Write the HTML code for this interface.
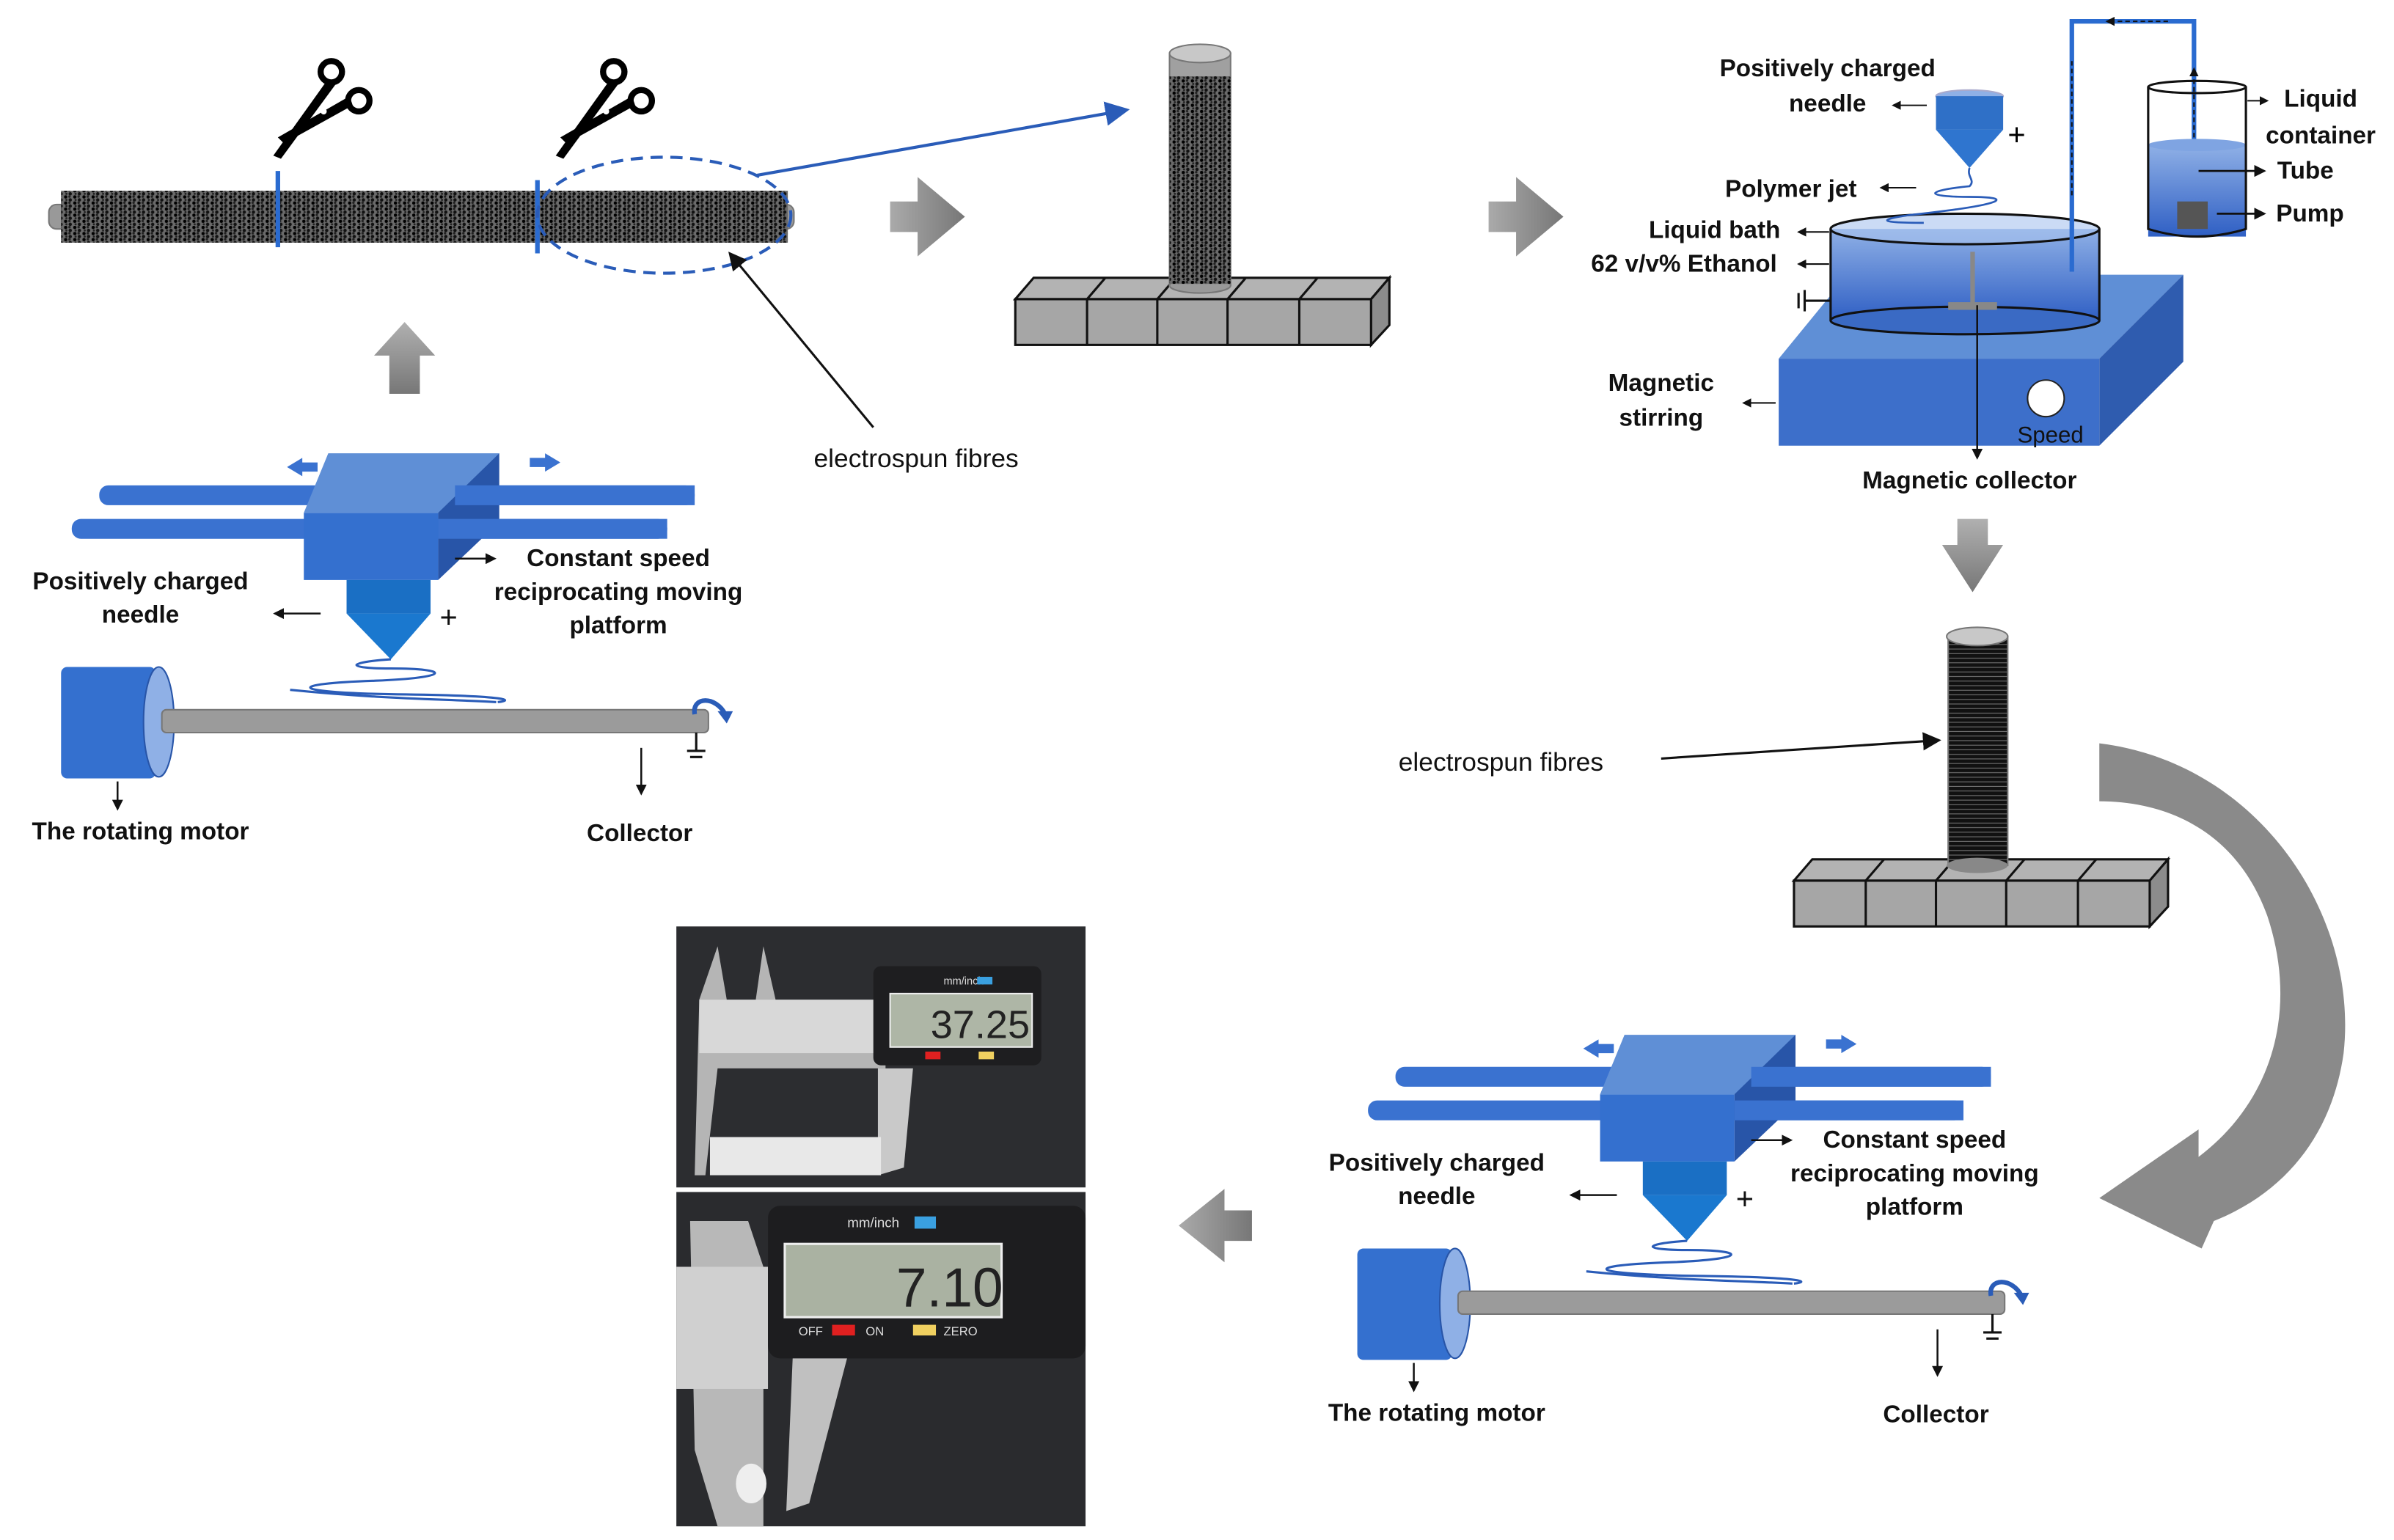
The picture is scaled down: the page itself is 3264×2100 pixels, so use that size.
<!DOCTYPE html>
<html><head><meta charset="utf-8"><style>
html,body{margin:0;padding:0;background:#fff;}
svg{display:block;}
.b{font-family:"Liberation Sans",sans-serif;font-weight:bold;font-size:16px;fill:#111;}
.r{font-family:"Liberation Sans",sans-serif;font-size:17px;fill:#111;}
</style></head><body>
<svg width="3264" height="2100" viewBox="0 0 1568 1009" preserveAspectRatio="none" xmlns="http://www.w3.org/2000/svg">
<defs>
<pattern id="fib" width="6" height="4" patternUnits="userSpaceOnUse">
<rect width="6" height="4" fill="#6a6a6a"/><circle cx="1" cy="1" r="1.1" fill="#000"/><circle cx="4" cy="3" r="1.1" fill="#111"/><circle cx="3.5" cy="0.8" r="0.8" fill="#222"/><circle cx="1.5" cy="3" r="0.7" fill="#222"/>
</pattern>
<pattern id="blk" width="4" height="3" patternUnits="userSpaceOnUse">
<rect width="4" height="3" fill="#111"/><rect y="2" width="4" height="0.5" fill="#777"/>
</pattern>
<linearGradient id="gr" x1="0" y1="0" x2="0" y2="1"><stop offset="0" stop-color="#b0b0b0"/><stop offset="1" stop-color="#777"/></linearGradient>
<linearGradient id="grh" x1="0" y1="0" x2="1" y2="0"><stop offset="0" stop-color="#aaa"/><stop offset="1" stop-color="#777"/></linearGradient>
<linearGradient id="wat" x1="0" y1="0" x2="0" y2="1"><stop offset="0" stop-color="#8fb0e6"/><stop offset="1" stop-color="#2f5fc4"/></linearGradient>
<marker id="ah" markerWidth="8" markerHeight="8" refX="7" refY="4" orient="auto"><path d="M0,0 L8,4 L0,8z" fill="#111"/></marker>
<marker id="ahs" markerWidth="6" markerHeight="6" refX="5" refY="3" orient="auto"><path d="M0,0 L6,3 L0,6z" fill="#111"/></marker>
<marker id="ahb" markerWidth="8" markerHeight="8" refX="7" refY="4" orient="auto"><path d="M0,0 L8,4 L0,8z" fill="#2a5cb8"/></marker>
<g id="app">
 <rect x="65" y="318" width="390" height="13" rx="6" fill="#3a72d0"/>
 <rect x="47" y="340" width="390" height="13" rx="6" fill="#3a72d0"/>
 <polygon points="199,336 215,297 327,297 311,336" fill="#5f8fd6"/>
 <polygon points="287,336 327,297 327,342 287,380" fill="#2855a8"/>
 <rect x="199" y="336" width="88" height="44" fill="#3470cf"/>
 <rect x="298" y="318" width="157" height="13" fill="#3a72d0"/>
 <rect x="287" y="340" width="150" height="13" fill="#3a72d0"/>
 <path d="M188,306 l10,-6 v3 h10 v6 h-10 v3z" fill="#3a72d0"/>
 <path d="M367,303 l-10,-6 v3 h-10 v6 h10 v3z" fill="#3a72d0"/>
 <rect x="227" y="380" width="55" height="22" fill="#1a6fc4"/>
 <polygon points="227,402 282,402 256,432" fill="#1a78cf"/>
 <path d="M256,432 c-30,2 -30,6 0,6 c40,0 40,6 -10,8 c-60,2 -60,8 20,9 c70,1 70,4 60,5" fill="none" stroke="#2a5cb8" stroke-width="1.5"/>
 <path d="M190,452 c60,6 100,6 135,8" fill="none" stroke="#2a5cb8" stroke-width="1.5"/>
 <text x="288" y="411" class="b" style="font-size:20px;font-weight:normal">+</text>
 <line x1="210" y1="402" x2="180" y2="402" stroke="#111" stroke-width="1.2" marker-end="url(#ahs)"/>
 <line x1="298" y1="366" x2="324" y2="366" stroke="#111" stroke-width="1.2" marker-end="url(#ahs)"/>
 <text x="92" y="386" class="b" text-anchor="middle">Positively charged</text>
 <text x="92" y="408" class="b" text-anchor="middle">needle</text>
 <text x="405" y="371" class="b" text-anchor="middle">Constant speed</text>
 <text x="405" y="393" class="b" text-anchor="middle">reciprocating moving</text>
 <text x="405" y="415" class="b" text-anchor="middle">platform</text>
 <rect x="40" y="437" width="62" height="73" rx="4" fill="#3470cf"/>
 <ellipse cx="104" cy="473" rx="10" ry="36" fill="#8fb0e6" stroke="#2855a8"/>
 <rect x="106" y="465" width="358" height="15" rx="3" fill="#9b9b9b" stroke="#777"/>
 <path d="M455,468 c-2,-12 14,-12 20,0" fill="none" stroke="#2a5cb8" stroke-width="3"/>
 <path d="M470,466 l10,0 l-4,8z" fill="#2a5cb8"/>
 <line x1="456" y1="480" x2="456" y2="492" stroke="#111" stroke-width="1.5"/>
 <line x1="450" y1="492" x2="462" y2="492" stroke="#111" stroke-width="1.5"/>
 <line x1="452" y1="496" x2="460" y2="496" stroke="#111" stroke-width="1.5"/>
 <line x1="77" y1="512" x2="77" y2="530" stroke="#111" stroke-width="1.2" marker-end="url(#ahs)"/>
 <line x1="420" y1="490" x2="420" y2="520" stroke="#111" stroke-width="1.2" marker-end="url(#ahs)"/>
 <text x="92" y="550" class="b" text-anchor="middle">The rotating motor</text>
 <text x="419" y="551" class="b" text-anchor="middle">Collector</text>
</g>
<g id="base">
 <polygon points="665,196 677,182 910,182 898,196" fill="#b3b3b3" stroke="#111" stroke-width="1.5"/>
 <polygon points="898,196 910,182 910,213 898,226" fill="#8c8c8c" stroke="#111" stroke-width="1.5"/>
 <rect x="665" y="196" width="233" height="30" fill="#a6a6a6" stroke="#111" stroke-width="1.5"/>
 <g stroke="#111" stroke-width="1.5"><line x1="712" y1="196" x2="712" y2="226"/><line x1="758" y1="196" x2="758" y2="226"/><line x1="804" y1="196" x2="804" y2="226"/><line x1="851" y1="196" x2="851" y2="226"/>
 <line x1="712" y1="196" x2="724" y2="182"/><line x1="758" y1="196" x2="770" y2="182"/><line x1="804" y1="196" x2="816" y2="182"/><line x1="851" y1="196" x2="863" y2="182"/></g>
</g>
</defs>

<!-- top rod -->
<rect x="32" y="134" width="488" height="16" rx="5" fill="#999" stroke="#777"/>
<rect x="40" y="125" width="476" height="34" fill="url(#fib)"/>
<line x1="182" y1="112" x2="182" y2="162" stroke="#2a6bd0" stroke-width="3"/>
<line x1="352" y1="118" x2="352" y2="166" stroke="#2a6bd0" stroke-width="3"/>
<ellipse cx="435" cy="141" rx="83" ry="38" fill="none" stroke="#2a5cb8" stroke-width="2" stroke-dasharray="8,5"/>
<line x1="495" y1="115" x2="738" y2="72" stroke="#2a5cb8" stroke-width="2" marker-end="url(#ahb)"/>
<!-- scissors -->
<g id="sc">
 <circle cx="217" cy="47" r="7" fill="none" stroke="#000" stroke-width="4"/>
 <circle cx="235" cy="66" r="7" fill="none" stroke="#000" stroke-width="4"/>
 <polygon points="214,53 220,55 184,104 179,102" fill="#000"/>
 <polygon points="229,63 231,69 186,94 182,90" fill="#000"/>
 <circle cx="212" cy="73" r="2" fill="#fff"/>
</g>
<use href="#sc" x="185" y="0"/>
<line x1="572" y1="280" x2="478" y2="166" stroke="#111" stroke-width="1.5" marker-end="url(#ah)"/>
<text x="533" y="306" class="r">electrospun fibres</text>
<!-- gray arrows -->
<path d="M583,132 h18 v-16 l31,26 l-31,26 v-16 h-18z" fill="url(#grh)"/>
<path d="M975,132 h18 v-16 l31,26 l-31,26 v-16 h-18z" fill="url(#grh)"/>
<path d="M245,233 l20,-22 l20,22 h-10 v25 h-20 v-25z" fill="url(#gr)"/>
<path d="M1282,340 h20 v17 h10 l-20,31 l-20,-31 h10z" fill="url(#gr)"/>
<path d="M820,793 h-18 v-14 l-30,24 l30,24 v-14 h18z" fill="url(#grh)"/>
<!-- cylinder top -->
<use href="#base"/>
<rect x="766" y="35" width="40" height="152" fill="#a0a0a0" stroke="#777"/>
<ellipse cx="786" cy="187" rx="20" ry="5" fill="#999" stroke="#777"/>
<rect x="766" y="50" width="40" height="136" fill="url(#fib)"/>
<ellipse cx="786" cy="35" rx="20" ry="6" fill="#c8c8c8" stroke="#777"/>
<!-- right top: bath -->
<polygon points="1165,235 1210,180 1430,180 1375,235" fill="#5f8fd6"/>
<polygon points="1375,235 1430,180 1430,237 1375,292" fill="#2f5caf"/>
<rect x="1165" y="235" width="210" height="57" fill="#3d6fca"/>
<rect x="1199" y="150" width="176" height="60" fill="url(#wat)"/>
<ellipse cx="1287" cy="210" rx="88" ry="9" fill="#3a6ac4" stroke="#111" stroke-width="1.5"/>
<line x1="1199" y1="150" x2="1199" y2="210" stroke="#111" stroke-width="1.5"/>
<line x1="1375" y1="150" x2="1375" y2="210" stroke="#111" stroke-width="1.5"/>
<ellipse cx="1287" cy="150" rx="88" ry="10" fill="#a9c3ee" stroke="#111" stroke-width="1.5" fill-opacity="0.6"/>
<line x1="1292" y1="165" x2="1292" y2="200" stroke="#888" stroke-width="3"/>
<rect x="1276" y="198" width="32" height="5" fill="#888"/>
<line x1="1295" y1="200" x2="1295" y2="300" stroke="#111" stroke-width="1.2" marker-end="url(#ahs)"/>
<circle cx="1340" cy="261" r="12" fill="#fff" stroke="#222"/>
<text x="1343" y="290" class="b" style="font-weight:normal;font-size:15px" text-anchor="middle">Speed</text>
<line x1="1178" y1="192" x2="1178" y2="202" stroke="#111" stroke-width="1.5"/><line x1="1182" y1="190" x2="1182" y2="204" stroke="#111" stroke-width="1.5"/><line x1="1182" y1="197" x2="1199" y2="197" stroke="#111" stroke-width="1.5"/>
<!-- needle -->
<ellipse cx="1290" cy="63" rx="22" ry="4" fill="#8fb0e6" stroke="#aac"/>
<rect x="1268" y="63" width="44" height="22" fill="#2f70c7"/>
<polygon points="1268,85 1312,85 1290,110" fill="#2f75cf"/>
<path d="M1290,110 c-2,6 4,8 0,12 c-30,3 -30,7 0,7 c30,0 25,5 -40,12 c-20,3 -20,5 10,5" fill="none" stroke="#2a5cb8" stroke-width="1.3"/>
<text x="1315" y="95" style="font-family:'Liberation Sans',sans-serif;font-size:20px">+</text>
<!-- tube and container -->
<path d="M1357,178 V14 H1437 V130" fill="none" stroke="#2a6bd0" stroke-width="3"/>
<line x1="1357" y1="40" x2="1357" y2="130" stroke="#111" stroke-width="1" stroke-dasharray="3,2"/>
<line x1="1437" y1="120" x2="1437" y2="45" stroke="#111" stroke-width="1" stroke-dasharray="3,2" marker-end="url(#ahs)"/>
<line x1="1420" y1="14" x2="1380" y2="14" stroke="#111" stroke-width="1" stroke-dasharray="3,2" marker-end="url(#ahs)"/>
<rect x="1407" y="95" width="64" height="60" fill="url(#wat)"/>
<ellipse cx="1439" cy="95" rx="32" ry="4" fill="#7fa4e2"/>
<path d="M1407,57 V150 Q1439,160 1471,150 V57" fill="none" stroke="#111" stroke-width="1.5"/>
<ellipse cx="1439" cy="57" rx="32" ry="4" fill="none" stroke="#111" stroke-width="1.5"/>
<rect x="1426" y="132" width="20" height="18" fill="#555"/>
<text x="1197" y="50" class="b" text-anchor="middle">Positively charged</text>
<text x="1197" y="73" class="b" text-anchor="middle">needle</text>
<line x1="1262" y1="69" x2="1240" y2="69" stroke="#111" marker-end="url(#ahs)"/>
<text x="1173" y="129" class="b" text-anchor="middle">Polymer jet</text>
<line x1="1255" y1="123" x2="1232" y2="123" stroke="#111" marker-end="url(#ahs)"/>
<text x="1123" y="156" class="b" text-anchor="middle">Liquid bath</text>
<line x1="1198" y1="152" x2="1178" y2="152" stroke="#111" marker-end="url(#ahs)"/>
<text x="1103" y="178" class="b" text-anchor="middle">62 v/v% Ethanol</text>
<line x1="1198" y1="173" x2="1178" y2="173" stroke="#111" marker-end="url(#ahs)"/>
<text x="1088" y="256" class="b" text-anchor="middle">Magnetic</text>
<text x="1088" y="279" class="b" text-anchor="middle">stirring</text>
<line x1="1163" y1="264" x2="1142" y2="264" stroke="#111" marker-end="url(#ahs)"/>
<text x="1290" y="320" class="b" text-anchor="middle">Magnetic collector</text>
<line x1="1472" y1="66" x2="1485" y2="66" stroke="#111" marker-end="url(#ahs)"/>
<text x="1520" y="70" class="b" text-anchor="middle">Liquid</text>
<text x="1520" y="94" class="b" text-anchor="middle">container</text>
<line x1="1440" y1="112" x2="1483" y2="112" stroke="#111" stroke-width="1.3" marker-end="url(#ahs)"/>
<text x="1510" y="117" class="b" text-anchor="middle">Tube</text>
<line x1="1452" y1="140" x2="1483" y2="140" stroke="#111" stroke-width="1.3" marker-end="url(#ahs)"/>
<text x="1513" y="145" class="b" text-anchor="middle">Pump</text>
<!-- middle right black cylinder -->
<use href="#base" x="510" y="381"/>
<rect x="1276" y="417" width="39" height="150" fill="url(#blk)" stroke="#777"/>
<ellipse cx="1295" cy="567" rx="20" ry="5" fill="#888"/>
<ellipse cx="1295" cy="417" rx="20" ry="6" fill="#c8c8c8" stroke="#777"/>
<line x1="1088" y1="497" x2="1270" y2="485" stroke="#111" stroke-width="1.5" marker-end="url(#ah)"/>
<text x="916" y="505" class="r">electrospun fibres</text>
<!-- big curved arrow -->
<path d="M1375,487 C1480,500 1545,600 1535,690 C1528,740 1500,780 1450,800 L1442,818 L1375,785 L1440,740 L1440,758 C1490,720 1505,660 1485,600 C1465,545 1420,525 1375,525 Z" fill="#8a8a8a"/>
<!-- lower apparatus -->
<use href="#app"/>
<use href="#app" x="849" y="381"/>
<!-- photos -->
<rect x="443" y="607" width="268" height="171" fill="#2c2d30"/>
<rect x="443" y="781" width="268" height="219" fill="#2a2b2e"/>
<g>
 <polygon points="458,655 470,620 476,655 495,655 500,620 508,655 580,655 580,700 470,700 462,770 455,770" fill="#b5b5b5"/>
 <rect x="458" y="655" width="122" height="35" fill="#d8d8d8"/>
 <polygon points="575,700 598,700 592,765 575,770" fill="#c9c9c9"/>
 <rect x="465" y="745" width="112" height="25" fill="#e8e8e8"/>
 <rect x="572" y="633" width="110" height="65" rx="5" fill="#1e1e20"/>
 <rect x="583" y="651" width="93" height="35" fill="#aeb6a6" stroke="#eee"/>
 <text x="642" y="680" style="font-family:'Liberation Sans',sans-serif;font-size:26px;fill:#222" text-anchor="middle">37.25</text>
 <text x="618" y="645" style="font-family:'Liberation Sans',sans-serif;font-size:7px;fill:#ddd">mm/inch</text>
 <rect x="640" y="640" width="10" height="5" fill="#3aa0e0"/>
 <rect x="606" y="689" width="10" height="5" fill="#e02020"/><rect x="641" y="689" width="10" height="5" fill="#f0d060"/>
</g>
<g>
 <polygon points="452,800 490,800 500,830 500,1000 470,1000 455,950" fill="#b8b8b8"/>
 <rect x="443" y="830" width="60" height="80" fill="#d0d0d0"/>
 <polygon points="520,870 560,870 530,985 515,990" fill="#c0c0c0"/>
 <rect x="503" y="790" width="208" height="100" rx="8" fill="#1d1d1f"/>
 <rect x="514" y="815" width="142" height="48" fill="#aab2a2" stroke="#eee" stroke-width="1.5"/>
 <text x="622" y="856" style="font-family:'Liberation Sans',sans-serif;font-size:36px;fill:#222" text-anchor="middle">7.10</text>
 <text x="555" y="804" style="font-family:'Liberation Sans',sans-serif;font-size:9px;fill:#ddd">mm/inch</text>
 <rect x="599" y="797" width="14" height="8" fill="#3aa0e0"/>
 <text x="523" y="875" style="font-family:'Liberation Sans',sans-serif;font-size:8px;fill:#ddd">OFF</text>
 <text x="567" y="875" style="font-family:'Liberation Sans',sans-serif;font-size:8px;fill:#ddd">ON</text>
 <text x="618" y="875" style="font-family:'Liberation Sans',sans-serif;font-size:8px;fill:#ddd">ZERO</text>
 <rect x="545" y="868" width="15" height="7" fill="#e02020"/><rect x="598" y="868" width="15" height="7" fill="#f0d060"/>
 <ellipse cx="492" cy="972" rx="10" ry="13" fill="#eee"/>
</g>
</svg>
</body></html>
